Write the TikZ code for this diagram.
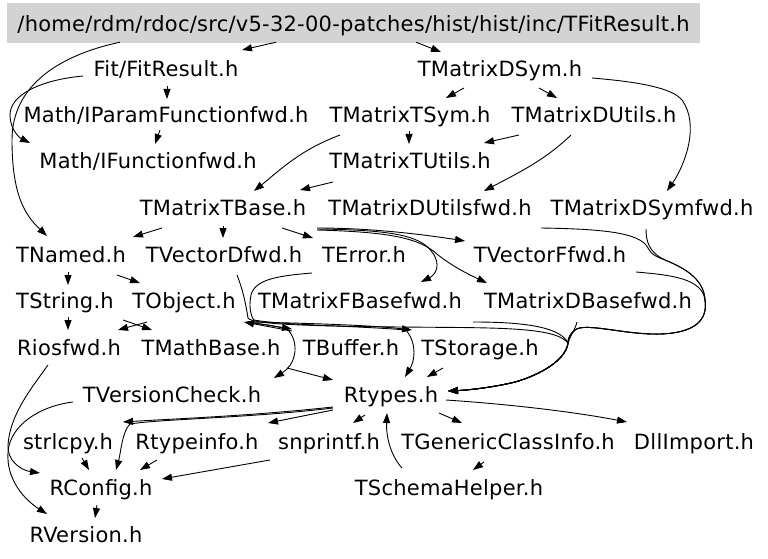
\documentclass[tikz,border=0pt]{standalone}
\usepackage{fontspec}
\setmainfont{DejaVu Sans}[LetterSpace=1.2]
\usetikzlibrary{arrows.meta}
\definecolor{boxgray}{HTML}{D3D3D3}
\begin{document}
\begin{tikzpicture}[x=1pt,y=-1pt,
  lbl/.style={inner sep=0pt, anchor=base, font=\fontsize{21}{25}\selectfont},
  conn/.style={line width=0.9pt, -{Triangle[length=10pt,width=7pt]}}]
\useasboundingbox (0,0) rectangle (768,559);
\fill[white] (0,0) rectangle (768,559);
% nodes
\node[fill=boxgray, minimum width=693pt, minimum height=40pt, inner sep=0pt,
      text height=18pt, text depth=0pt, font=\fontsize{21}{25}\selectfont] (title) at (353.5,23)
      {/home/rdm/rdoc/src/v5-32-00-patches/hist/hist/inc/TFitResult.h};
\node[lbl] (fitres) at (166,77) {Fit/FitResult.h};
\node[lbl] (tmds) at (500,77) {TMatrixDSym.h};
\node[lbl] (ipf) at (166,123) {Math/IParamFunctionfwd.h};
\node[lbl] (tmts) at (410,123) {TMatrixTSym.h};
\node[lbl] (tmdu) at (594,123) {TMatrixDUtils.h};
\node[lbl] (ifn) at (148,168) {Math/IFunctionfwd.h};
\node[lbl] (tmtu) at (410,168) {TMatrixTUtils.h};
\node[lbl] (tmtb) at (223,215) {TMatrixTBase.h};
\node[lbl] (tmduf) at (430,215) {TMatrixDUtilsfwd.h};
\node[lbl] (tmdsf) at (652,215) {TMatrixDSymfwd.h};
\node[lbl] (tnamed) at (71,262) {TNamed.h};
\node[lbl] (tvdf) at (224,262) {TVectorDfwd.h};
\node[lbl] (terr) at (364,262) {TError.h};
\node[lbl] (tvff) at (550,262) {TVectorFfwd.h};
\node[lbl] (tstr) at (65,308) {TString.h};
\node[lbl] (tobj) at (184,308) {TObject.h};
\node[lbl] (tmfbf) at (360,308) {TMatrixFBasefwd.h};
\node[lbl] (tmdbf) at (588,308) {TMatrixDBasefwd.h};
\node[lbl] (rios) at (69,355) {Riosfwd.h};
\node[lbl] (tmath) at (211,355) {TMathBase.h};
\node[lbl] (tbuf) at (351,355) {TBuffer.h};
\node[lbl] (tstor) at (480,355) {TStorage.h};
\node[lbl] (tvc) at (172,402) {TVersionCheck.h};
\node[lbl] (rtypes) at (391,402) {Rtypes.h};
\node[lbl] (strl) at (68,449) {strlcpy.h};
\node[lbl] (rtinfo) at (197,449) {Rtypeinfo.h};
\node[lbl] (snpr) at (329,449) {snprintf.h};
\node[lbl] (tgci) at (508,449) {TGenericClassInfo.h};
\node[lbl] (dll) at (694,449) {DllImport.h};
\node[lbl] (rconf) at (101,495) {RConfig.h};
\node[lbl] (tsch) at (449,495) {TSchemaHelper.h};
\node[lbl] (rver) at (86,542) {RVersion.h};
% edges
\draw[conn] ([shift={(-77.5,-1)}]title.south) -- ([shift={(76,-27)}]fitres.base);
\draw[conn] ([shift={(62.5,-1)}]title.south) -- ([shift={(-59,-25)}]tmds.base);
\draw[conn] ([shift={(-233.5,-1)}]title.south) .. controls (60,55) and (12,85) .. (12,140) .. controls (12,195) and (25,215) .. ([shift={(-24,-26)}]tnamed.base);
\draw[conn] ([shift={(-83,-1)}]fitres.base) .. controls (40,80) and (10,95) .. (10,115) .. controls (10,130) and (20,138) .. ([shift={(-118,-25)}]ifn.base);
\draw[conn] ([shift={(1,9)}]fitres.base) -- ([shift={(1,-24)}]ipf.base);
\draw[conn] ([shift={(-6,7)}]ipf.base) -- ([shift={(7,-24)}]ifn.base);
\draw[conn] ([shift={(-36,11)}]tmds.base) -- ([shift={(36,-25)}]tmts.base);
\draw[conn] ([shift={(39,11)}]tmds.base) -- ([shift={(-37,-25)}]tmdu.base);
\draw[conn] ([shift={(92,1)}]tmds.base) .. controls (640,82) and (672,88) .. (682,100) .. controls (700,125) and (685,165) .. ([shift={(15,-24)}]tmdsf.base);
\draw[conn] ([shift={(-1,8)}]tmts.base) -- ([shift={(-1,-24)}]tmtu.base);
\draw[conn] ([shift={(-70,12)}]tmts.base) .. controls (300,150) and (280,170) .. ([shift={(31,-24)}]tmtb.base);
\draw[conn] ([shift={(-75,12)}]tmdu.base) -- ([shift={(74,-25)}]tmtu.base);
\draw[conn] ([shift={(-23,12)}]tmdu.base) .. controls (545,160) and (520,172) .. ([shift={(54,-24)}]tmduf.base);
\draw[conn] ([shift={(-77,14)}]tmtu.base) -- ([shift={(77,-25)}]tmtb.base);
\draw[conn] ([shift={(-61,13)}]tmtb.base) -- ([shift={(62,-25)}]tnamed.base);
\draw[conn] ([shift={(0,11)}]tmtb.base) -- ([shift={(-1,-24)}]tvdf.base);
\draw[conn] ([shift={(59,13)}]tmtb.base) -- ([shift={(-51,-24)}]terr.base);
\draw[conn] ([shift={(94,13)}]tmtb.base) .. controls (370,228) and (420,234) .. ([shift={(-85,-21)}]tvff.base);
\draw[conn] ([shift={(94,14)}]tmtb.base) .. controls (390,230) and (420,235) .. (432,252) .. controls (442,265) and (435,275) .. ([shift={(61,-26)}]tmfbf.base);
\draw[conn] ([shift={(94,15)}]tmtb.base) .. controls (390,232) and (420,238) .. (438,255) .. controls (455,268) and (470,275) .. ([shift={(-101,-25)}]tmdbf.base);
\draw[conn] ([shift={(-3,10)}]tnamed.base) -- ([shift={(3,-23)}]tstr.base);
\draw[conn] ([shift={(46,13)}]tnamed.base) -- ([shift={(-44,-25)}]tobj.base);
\draw[conn] ([shift={(3,9)}]tstr.base) -- ([shift={(-1,-25)}]rios.base);
\draw[conn] ([shift={(58,12)}]tstr.base) -- ([shift={(-59,-25)}]tmath.base);
\draw[conn] ([shift={(-37,14)}]tobj.base) -- ([shift={(49,-25)}]rios.base);
\draw[conn] ([shift={(64,14)}]tobj.base) -- ([shift={(-59,-26)}]tbuf.base);
\draw[conn] ([shift={(-59,-24)}]tbuf.base) -- ([shift={(60,14)}]tobj.base);
\draw[conn] ([shift={(64,14)}]tobj.base) .. controls (265,325) and (282,326) .. (289,331) .. controls (300,345) and (295,365) .. ([shift={(102,-24)}]tvc.base);
\draw[conn] ([shift={(64,14)}]tobj.base) .. controls (300,323) and (370,325) .. ([shift={(-68,-25)}]tstor.base);
\draw[conn] ([shift={(-52,11)}]terr.base) .. controls (275,276) and (255,280) .. (251,295) .. controls (249,305) and (250,315) .. (254,320) .. controls (280,325) and (360,326) .. (406,330) .. controls (418,345) and (414,362) .. ([shift={(14,-25)}]rtypes.base);
\draw[conn] ([shift={(13,13)}]tvdf.base) .. controls (243,290) and (246,305) .. (248,318) .. controls (252,324) and (300,326) .. (400,327) .. controls (490,328) and (555,326) .. (568,343) .. controls (566,360) and (540,375) .. (515,382) .. controls (495,387) and (470,390) .. ([shift={(57,-11)}]rtypes.base);
\draw[conn] ([shift={(113,14)}]tmfbf.base) .. controls (520,322) and (560,326) .. (568,343) .. controls (566,360) and (540,375) .. (515,382) .. controls (495,387) and (470,390) .. ([shift={(57,-11)}]rtypes.base);
\draw[conn] ([shift={(-11,14)}]tmdbf.base) .. controls (575,330) and (570,336) .. (568,343) .. controls (566,360) and (540,375) .. (515,382) .. controls (495,387) and (470,390) .. ([shift={(57,-11)}]rtypes.base);
\draw[conn] ([shift={(86,10)}]tvff.base) .. controls (670,275) and (702,278) .. (705,300) .. controls (708,320) and (695,333) .. (660,334) .. controls (625,335) and (585,322) .. (575,330) .. controls (570,334) and (568,338) .. (568,343) .. controls (566,360) and (540,375) .. (515,382) .. controls (495,387) and (470,390) .. ([shift={(57,-11)}]rtypes.base);
\draw[conn] ([shift={(-6,14)}]tmdsf.base) .. controls (646,240) and (648,252) .. (665,260) .. controls (690,270) and (704,282) .. (705,300) .. controls (708,320) and (695,333) .. (660,334) .. controls (625,335) and (585,322) .. (575,330) .. controls (570,334) and (568,338) .. (568,343) .. controls (566,360) and (540,375) .. (515,382) .. controls (495,387) and (470,390) .. ([shift={(57,-11)}]rtypes.base);
\draw[conn] ([shift={(111,13)}]tmduf.base) .. controls (600,229) and (640,232) .. (648,248) .. controls (652,256) and (660,258) .. (665,260) .. controls (690,270) and (704,282) .. (705,300) .. controls (708,320) and (695,333) .. (660,334) .. controls (625,335) and (585,322) .. (575,330) .. controls (570,334) and (568,338) .. (568,343) .. controls (566,360) and (540,375) .. (515,382) .. controls (495,387) and (470,390) .. ([shift={(57,-11)}]rtypes.base);
\draw[conn] ([shift={(76,13)}]tmath.base) -- ([shift={(-58,-22)}]rtypes.base);
\draw[conn] ([shift={(-37,13)}]tstor.base) -- ([shift={(36,-25)}]rtypes.base);
\draw[conn] ([shift={(-58,5)}]rtypes.base) .. controls (250,416) and (170,419) .. ([shift={(55,-27)}]strl.base);
\draw[conn] ([shift={(-58,6)}]rtypes.base) .. controls (250,418) and (160,419) .. (130,424) .. controls (122,432) and (121,452) .. ([shift={(15,-25)}]rconf.base);
\draw[conn] ([shift={(-58,8)}]rtypes.base) -- ([shift={(71,-26)}]rtinfo.base);
\draw[conn] ([shift={(-26,13)}]rtypes.base) -- ([shift={(24,-26)}]snpr.base);
\draw[conn] ([shift={(48,11)}]rtypes.base) -- ([shift={(-46,-26)}]tgci.base);
\draw[conn] ([shift={(55,-2)}]rtypes.base) .. controls (520,405) and (580,413) .. ([shift={(-67,-27)}]dll.base);
\draw[conn] ([shift={(-47,-27)}]tsch.base) .. controls (390,455) and (386,435) .. ([shift={(-4,11)}]rtypes.base);
\draw[conn] ([shift={(-24,13)}]tgci.base) -- ([shift={(24,-25)}]tsch.base);
\draw[conn] ([shift={(14,9)}]strl.base) -- ([shift={(-12,-25)}]rconf.base);
\draw[conn] ([shift={(-40,11)}]rtinfo.base) -- ([shift={(39,-25)}]rconf.base);
\draw[conn] ([shift={(-59,11)}]snpr.base) .. controls (230,467) and (190,474) .. ([shift={(61,-16)}]rconf.base);
\draw[conn] ([shift={(-4,10)}]rconf.base) -- ([shift={(9,-24)}]rver.base);
\draw[conn] ([shift={(-21,10)}]rios.base) .. controls (30,390) and (10,415) .. (8,445) .. controls (7,460) and (20,470) .. ([shift={(-61,-22)}]rconf.base);
\draw[conn] ([shift={(-99,0)}]tvc.base) .. controls (40,406) and (10,425) .. (8,452) .. controls (6,480) and (25,500) .. ([shift={(-39,-28)}]rver.base);
\end{tikzpicture}
\end{document}
